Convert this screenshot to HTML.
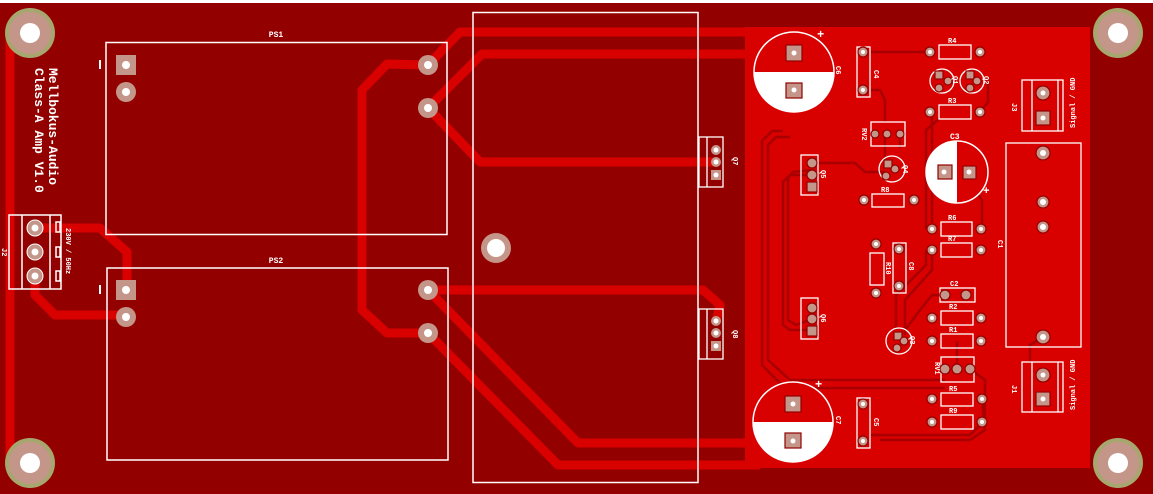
<!DOCTYPE html>
<html><head><meta charset="utf-8"><style>
html,body{margin:0;padding:0;background:#930000;}
svg{display:block}
text{font-family:"Liberation Mono",monospace;fill:#fff;font-weight:bold}
</style></head><body>
<svg width="1153" height="494" viewBox="0 0 1153 494" xmlns="http://www.w3.org/2000/svg">
<rect width="1153" height="494" fill="#930000"/>
<rect width="1153" height="3" fill="#fff"/>
<rect x="745" y="27" width="345" height="441" fill="#d90000"/>
<rect x="1090" y="38" width="50" height="420" fill="#930000"/>
<g stroke="#d90000" stroke-width="9" fill="none" stroke-linejoin="round">
<polyline points="10,30 10,460"/>
<polyline points="35,228 100,228 127,252 127,290"/>
<polyline points="35,276 35,295 55,315 126,315"/>
<polyline points="428,65 387,64 362,90 362,310 387,333 428,333"/>
<polyline points="428,65 460,32 760,32"/>
<polyline points="428,108 482,54 760,54"/>
<polyline points="428,108 480,162 716,162"/>
<polyline points="428,290 703,290 720,305 716,321"/>
<polyline points="428,290 578,443 760,443"/>
<polyline points="428,333 558,465 760,465"/>
</g>
<g stroke="#a80000" stroke-width="2.5" fill="none">
<polyline points="783,131 772,131 762,141 762,365 785,388 945,388"/>
<polyline points="790,137 776,137 768,145 768,360 790,380 945,380"/>
<polyline points="812,163 855,163 865,172 885,172"/>
<polyline points="812,175 790,175 783,182 783,325 790,330 812,330"/>
<polyline points="812,170 793,172 788,178 788,320 796,325 812,319"/>
<polyline points="885,134 885,168"/>
<polyline points="900,134 900,148"/>
<polyline points="932,229 932,112"/>
<polyline points="926,229 926,130 940,118"/>
<polyline points="932,250 932,270 905,300 905,335"/>
<polyline points="926,250 926,265 896,295 896,330"/>
<polyline points="982,229 982,200 972,185"/>
<polyline points="945,295 932,295 920,310 905,330"/>
<polyline points="982,399 985,430 970,440 880,440"/>
<polyline points="970,369 985,380 985,420 970,435 870,435"/>
<polyline points="980,112 988,102 988,78"/>
<polyline points="870,52 930,52"/>
<polyline points="870,90 880,90 885,100 885,122"/>
<polyline points="1043,337 1030,345 1030,362"/>
<polyline points="957,369 957,341"/>
</g>
<rect x="473" y="12.5" width="225" height="470" fill="none" stroke="#fff" stroke-width="1.5"/>
<rect x="106" y="42.5" width="341" height="192" fill="none" stroke="#fff" stroke-width="1.5"/>
<rect x="107" y="268" width="341" height="192" fill="none" stroke="#fff" stroke-width="1.5"/>
<text x="276" y="37" font-size="8" text-anchor="middle">PS1</text>
<text x="276" y="263" font-size="8" text-anchor="middle">PS2</text>
<rect x="99" y="60" width="2" height="9" fill="#fff"/>
<rect x="99" y="285" width="2" height="9" fill="#fff"/>
<g fill="#c4968a">
<rect x="116" y="55" width="20" height="20"/><circle cx="126" cy="92" r="10"/>
<rect x="116" y="280" width="20" height="20"/><circle cx="126" cy="317" r="10"/>
<circle cx="428" cy="65" r="10"/><circle cx="428" cy="108" r="10"/>
<circle cx="428" cy="290" r="10"/><circle cx="428" cy="333" r="10"/>
<circle cx="496" cy="248" r="15"/>
</g>
<g fill="#fff">
<circle cx="126" cy="65" r="4"/><circle cx="126" cy="92" r="4"/>
<circle cx="126" cy="290" r="4"/><circle cx="126" cy="317" r="4"/>
<circle cx="428" cy="65" r="4"/><circle cx="428" cy="108" r="4"/>
<circle cx="428" cy="290" r="4"/><circle cx="428" cy="333" r="4"/>
<circle cx="496" cy="248" r="9"/>
</g>
<g>
<circle cx="30" cy="33" r="25" fill="#a6a66e"/><circle cx="30" cy="33" r="21" fill="#c4968a"/><circle cx="30" cy="33" r="10" fill="#fff"/>
<circle cx="30" cy="463" r="25" fill="#a6a66e"/><circle cx="30" cy="463" r="21" fill="#c4968a"/><circle cx="30" cy="463" r="10" fill="#fff"/>
<circle cx="1118" cy="33" r="25" fill="#a6a66e"/><circle cx="1118" cy="33" r="21" fill="#c4968a"/><circle cx="1118" cy="33" r="10" fill="#fff"/>
<circle cx="1118" cy="463" r="25" fill="#a6a66e"/><circle cx="1118" cy="463" r="21" fill="#c4968a"/><circle cx="1118" cy="463" r="10" fill="#fff"/>
</g>
<text transform="translate(49,68) rotate(90)" font-size="13">Mellbokus-Audio</text>
<text transform="translate(35,68) rotate(90)" font-size="13">Class-A Amp V1.0</text>
<rect x="9" y="215" width="52" height="74" fill="none" stroke="#fff" stroke-width="1.5"/>
<line x1="22" y1="215" x2="22" y2="289" stroke="#fff" stroke-width="1.5"/>
<line x1="50" y1="215" x2="50" y2="289" stroke="#fff" stroke-width="1.5"/>
<g fill="none" stroke="#fff" stroke-width="1.5"><rect x="56" y="222" width="4" height="10"/><rect x="56" y="247" width="4" height="10"/><rect x="56" y="271" width="4" height="10"/></g>
<g fill="#c4968a" stroke="#fff" stroke-width="1"><circle cx="35" cy="228" r="8"/><circle cx="35" cy="252" r="8"/><circle cx="35" cy="276" r="8"/></g>
<g fill="#fff"><circle cx="35" cy="228" r="3.5"/><circle cx="35" cy="252" r="3.5"/><circle cx="35" cy="276" r="3.5"/></g>
<text transform="translate(66,228) rotate(90)" font-size="7">230V / 50Hz</text>
<text transform="translate(2,248) rotate(90)" font-size="7">J2</text>
<g fill="none" stroke="#fff" stroke-width="1.3">
<rect x="699" y="137" width="24" height="50"/><line x1="707" y1="137" x2="707" y2="187"/>
<rect x="699" y="309" width="24" height="50"/><line x1="707" y1="309" x2="707" y2="359"/>
</g>
<g fill="#c4968a"><circle cx="716" cy="150" r="5"/><circle cx="716" cy="162" r="5"/><rect x="711" y="170" width="10" height="10"/>
<circle cx="716" cy="321" r="5"/><circle cx="716" cy="333" r="5"/><rect x="711" y="341" width="10" height="10"/></g>
<g fill="#fff"><circle cx="716" cy="150" r="2.5"/><circle cx="716" cy="162" r="2.5"/><circle cx="716" cy="175" r="2.5"/><circle cx="716" cy="321" r="2.5"/><circle cx="716" cy="333" r="2.5"/><circle cx="716" cy="346" r="2.5"/></g>
<text transform="translate(733,157) rotate(90)" font-size="7">Q7</text>
<text transform="translate(733,330) rotate(90)" font-size="7">Q8</text>
<circle cx="794" cy="72" r="40" fill="#d90000" stroke="#fff" stroke-width="1.5"/>
<path d="M754,72 A40,40 0 0 0 834,72 Z" fill="#fff"/>
<circle cx="793" cy="422" r="40" fill="#d90000" stroke="#fff" stroke-width="1.5"/>
<path d="M753,422 A40,40 0 0 0 833,422 Z" fill="#fff"/>
<text x="817" y="38" font-size="12">+</text><text x="815" y="388" font-size="12">+</text>
<text transform="translate(836,66) rotate(90)" font-size="7">C6</text>
<text transform="translate(836,416) rotate(90)" font-size="7">C7</text>
<circle cx="957" cy="172" r="31" fill="#d90000" stroke="#fff" stroke-width="1.5"/>
<path d="M957,141 A31,31 0 0 0 957,203 Z" fill="#fff"/>
<text x="950" y="139" font-size="8">C3</text><text x="983" y="194" font-size="11">+</text>
<g fill="none" stroke="#fff" stroke-width="1.3">
<rect x="857" y="47" width="13" height="50"/>
<rect x="857" y="398" width="13" height="50"/>
<rect x="939" y="45" width="32" height="14"/>
<rect x="939" y="105" width="32" height="14"/>
<circle cx="942" cy="81" r="12"/><circle cx="972" cy="81" r="12"/>
<rect x="1022" y="80" width="41" height="51"/><line x1="1032" y1="80" x2="1032" y2="131"/><line x1="1058" y1="80" x2="1058" y2="131"/>
<rect x="1022" y="362" width="41" height="50"/><line x1="1032" y1="362" x2="1032" y2="412"/><line x1="1058" y1="362" x2="1058" y2="412"/>
<rect x="871" y="122" width="34" height="24"/>
<circle cx="892" cy="169" r="13"/>
<rect x="801" y="155" width="17" height="40"/>
<rect x="801" y="298" width="17" height="41"/>
<rect x="872" y="194" width="32" height="13"/>
<rect x="1006" y="143" width="75" height="204"/>
<rect x="941" y="222" width="31" height="14"/>
<rect x="941" y="243" width="31" height="14"/>
<rect x="870" y="253" width="14" height="32"/>
<rect x="893" y="243" width="13" height="50"/>
<rect x="940" y="288" width="35" height="14"/>
<rect x="941" y="311" width="32" height="14"/>
<rect x="941" y="334" width="32" height="14"/>
<circle cx="899" cy="341" r="13"/>
<rect x="941" y="357" width="33" height="25"/>
<rect x="941" y="393" width="32" height="13"/>
<rect x="941" y="415" width="32" height="14"/>
</g>
<g fill="#c4968a" stroke="#930000" stroke-width="1.2">
<rect x="786" y="45" width="16" height="16"/><rect x="786" y="83" width="16" height="15"/>
<rect x="785" y="396" width="16" height="16"/><rect x="785" y="433" width="16" height="15"/>
<circle cx="863" cy="52" r="5"/><circle cx="863" cy="90" r="5"/>
<circle cx="863" cy="404" r="5"/><circle cx="863" cy="441" r="5"/>
<circle cx="930" cy="52" r="5"/><circle cx="980" cy="52" r="5"/>
<circle cx="930" cy="112" r="5"/><circle cx="980" cy="112" r="5"/>
<rect x="935" y="71" width="8" height="8"/><circle cx="948" cy="81" r="4"/><circle cx="939" cy="88" r="4"/>
<rect x="966" y="71" width="8" height="8"/><circle cx="977" cy="81" r="4"/><circle cx="970" cy="88" r="4"/>
<circle cx="1043" cy="93" r="7"/><rect x="1036" y="111" width="14" height="14"/>
<circle cx="1043" cy="375" r="7"/><rect x="1036" y="392" width="14" height="14"/>
<circle cx="875" cy="134" r="4"/><circle cx="887" cy="134" r="4"/><circle cx="900" cy="134" r="4"/>
<rect x="884" y="160" width="8" height="8"/><circle cx="895" cy="169" r="4"/><circle cx="886" cy="176" r="4"/>
<circle cx="812" cy="163" r="5"/><circle cx="812" cy="175" r="5"/><rect x="807" y="182" width="10" height="10"/>
<circle cx="812" cy="308" r="5"/><circle cx="812" cy="319" r="5"/><rect x="807" y="326" width="10" height="10"/>
<circle cx="864" cy="200" r="5"/><circle cx="914" cy="200" r="5"/>
<rect x="938" y="165" width="14" height="14"/><rect x="963" y="166" width="13" height="13"/>
<circle cx="1043" cy="153" r="7"/><circle cx="1043" cy="202" r="6"/><circle cx="1043" cy="227" r="6"/><circle cx="1043" cy="337" r="7"/>
<circle cx="932" cy="229" r="5"/><circle cx="981" cy="229" r="5"/>
<circle cx="932" cy="250" r="5"/><circle cx="981" cy="250" r="5"/>
<circle cx="876" cy="244" r="5"/><circle cx="876" cy="293" r="5"/>
<circle cx="899" cy="249" r="5"/><circle cx="899" cy="286" r="5"/>
<circle cx="945" cy="295" r="5"/><circle cx="966" cy="295" r="5"/>
<circle cx="932" cy="318" r="5"/><circle cx="981" cy="318" r="5"/>
<circle cx="932" cy="341" r="5"/><circle cx="981" cy="341" r="5"/>
<rect x="894" y="332" width="8" height="8"/><circle cx="904" cy="341" r="4"/><circle cx="897" cy="348" r="4"/>
<circle cx="945" cy="369" r="5"/><circle cx="957" cy="369" r="5"/><circle cx="970" cy="369" r="5"/>
<circle cx="932" cy="399" r="5"/><circle cx="982" cy="399" r="5"/>
<circle cx="932" cy="422" r="5"/><circle cx="982" cy="422" r="5"/>
</g>
<g fill="#fff">
<circle cx="794" cy="53" r="2.5"/><circle cx="794" cy="90" r="2.5"/><circle cx="793" cy="404" r="2.5"/><circle cx="793" cy="441" r="2.5"/>
<circle cx="863" cy="52" r="2"/><circle cx="863" cy="90" r="2"/><circle cx="863" cy="404" r="2"/><circle cx="863" cy="441" r="2"/>
<circle cx="930" cy="52" r="2"/><circle cx="980" cy="52" r="2"/><circle cx="930" cy="112" r="2"/><circle cx="980" cy="112" r="2"/>
<circle cx="1043" cy="93" r="2.5"/><circle cx="1043" cy="118" r="2.5"/><circle cx="1043" cy="375" r="2.5"/><circle cx="1043" cy="399" r="2.5"/>
<circle cx="1043" cy="153" r="3"/><circle cx="1043" cy="202" r="3"/><circle cx="1043" cy="227" r="3"/><circle cx="1043" cy="337" r="3"/>
<circle cx="944" cy="172" r="2.5"/><circle cx="969" cy="172" r="2.5"/>
<circle cx="864" cy="200" r="2"/><circle cx="914" cy="200" r="2"/>
<circle cx="932" cy="229" r="2"/><circle cx="981" cy="229" r="2"/><circle cx="932" cy="250" r="2"/><circle cx="981" cy="250" r="2"/>
<circle cx="876" cy="244" r="2"/><circle cx="876" cy="293" r="2"/><circle cx="899" cy="249" r="2"/><circle cx="899" cy="286" r="2"/>
<circle cx="932" cy="318" r="2"/><circle cx="981" cy="318" r="2"/><circle cx="932" cy="341" r="2"/><circle cx="981" cy="341" r="2"/>
<circle cx="932" cy="399" r="2"/><circle cx="982" cy="399" r="2"/><circle cx="932" cy="422" r="2"/><circle cx="982" cy="422" r="2"/>
</g>
<g font-size="7">
<text x="948" y="43">R4</text><text x="948" y="103">R3</text>
<text x="948" y="220">R6</text><text x="948" y="241">R7</text>
<text x="950" y="286">C2</text><text x="949" y="309">R2</text><text x="949" y="332">R1</text>
<text x="949" y="391">R5</text><text x="949" y="413">R9</text>
<text x="881" y="192">R8</text>
<text transform="translate(874,70) rotate(90)">C4</text>
<text transform="translate(874,418) rotate(90)">C5</text>
<text transform="translate(953,76) rotate(90)">Q1</text>
<text transform="translate(984,76) rotate(90)">Q2</text>
<text transform="translate(862,128) rotate(90)">RV2</text>
<text transform="translate(935,362) rotate(90)">RV1</text>
<text transform="translate(903,165) rotate(90)">Q4</text>
<text transform="translate(910,336) rotate(90)">Q3</text>
<text transform="translate(821,170) rotate(90)">Q5</text>
<text transform="translate(821,314) rotate(90)">Q6</text>
<text transform="translate(886,262) rotate(90)">R10</text>
<text transform="translate(909,262) rotate(90)">C8</text>
<text transform="translate(998,240) rotate(90)">C1</text>
<text transform="translate(1012,103) rotate(90)">J3</text>
<text transform="translate(1012,385) rotate(90)">J1</text>
<text transform="translate(1075,128) rotate(-90)">Signal / GND</text>
<text transform="translate(1075,410) rotate(-90)">Signal / GND</text>
</g>
</svg>
</body></html>
